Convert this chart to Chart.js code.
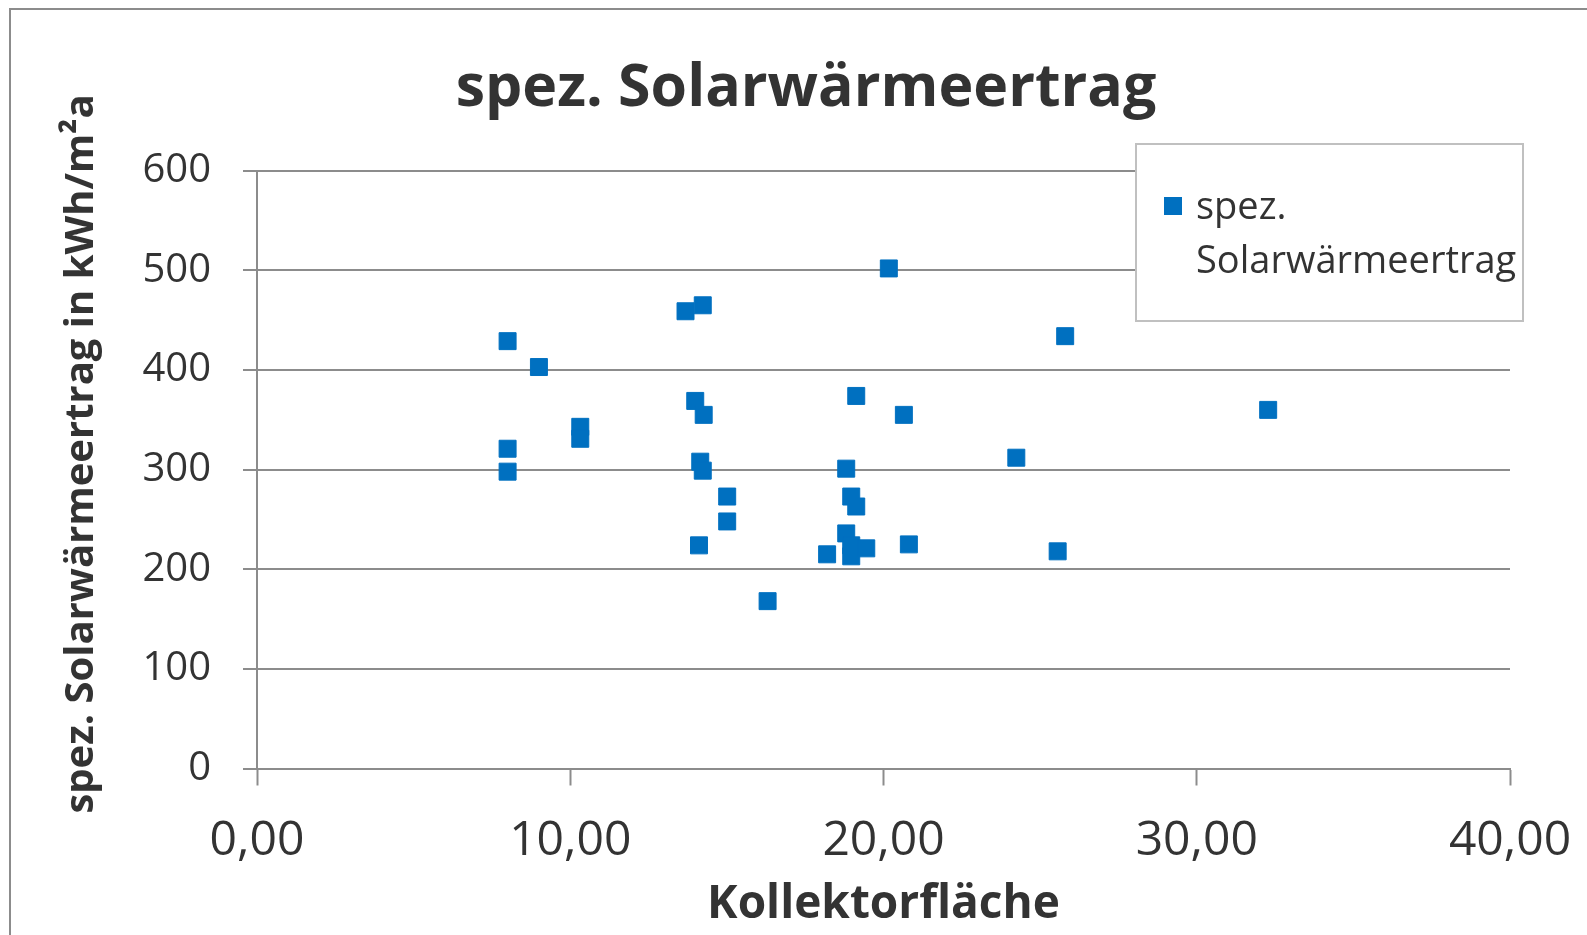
<!DOCTYPE html>
<html>
<head>
<meta charset="utf-8">
<script src="https://cdn.jsdelivr.net/npm/chart.js@4.4.1/dist/chart.umd.min.js"></script>
<style>
    html, body { margin: 0; padding: 0; background: #fff; }
    #wrap { width: 1587px; height: 935px; }
</style>
</head>
<body>
<div id="wrap"><canvas id="solarChart" width="1587" height="935"></canvas></div>
<script>
// Kollektorfläche (m²) and spez. Solarwärmeertrag (kWh/m²a)
let flaeche = [
    8.0, 8.0, 8.0, 9.0, 10.32, 10.32, 13.68, 14.23, 13.99, 14.26, 14.15,
    14.23, 15.01, 15.01, 14.11, 16.3, 18.2, 18.81, 18.81, 18.97, 18.97,
    18.97, 19.13, 19.13, 19.45, 20.17, 20.65, 20.81, 24.24, 25.56, 25.8, 32.28
];
let ertrag = [
    429, 321, 298, 403, 343, 331, 459, 465, 369, 355, 308,
    299, 273, 248, 224, 168, 215, 301, 236, 273, 224,
    213, 374, 263, 221, 502, 355, 225, 312, 218, 434, 360
];
let xTickLabels = ['0,00', '10,00', '20,00', '30,00', '40,00'];
let yTickLabels = ['0', '100', '200', '300', '400', '500', '600'];
let seriesName = 'spez. Solarwärmeertrag';
let xTitle = 'Kollektorfläche';
let yTitle = 'spez. Solarwärmeertrag in kWh/m²a';

const blue = '#0070C0';
const gridGray = '#8c8c8c';
const textColor = '#333333';

// white background + outer frame (only left and top edge visible)
const framePlugin = {
    id: 'frame',
    beforeDraw(chart) {
        const ctx = chart.ctx;
        ctx.save();
        ctx.fillStyle = '#fff';
        ctx.fillRect(0, 0, chart.width, chart.height);
        ctx.strokeStyle = '#8c8c8c';
        ctx.lineWidth = 2;
        ctx.strokeRect(10, 9, chart.width + 50, chart.height + 50);
        ctx.restore();
    }
};

// y axis title, excel puts it a bit above the middle of the plot
const yTitlePlugin = {
    id: 'yTitle',
    afterDraw(chart) {
        const ctx = chart.ctx;
        ctx.save();
        ctx.translate(82, 454);
        ctx.rotate(-Math.PI / 2);
        ctx.fillStyle = textColor;
        ctx.font = 'bold 40px "Open Sans"';
        ctx.textAlign = 'center';
        ctx.textBaseline = 'middle';
        ctx.fillText(yTitle, 0, 0);
        ctx.restore();
    }
};

// legend box like the excel one, with the label wrapped on two lines
const legendBoxPlugin = {
    id: 'legendBox',
    afterDraw(chart) {
        const ctx = chart.ctx;
        const ds = chart.data.datasets[0];
        ctx.save();
        ctx.fillStyle = '#fff';
        ctx.fillRect(1136, 144, 387, 177);
        ctx.strokeStyle = '#c0c0c0';
        ctx.lineWidth = 2;
        ctx.strokeRect(1136, 144, 387, 177);
        ctx.fillStyle = ds.backgroundColor;
        ctx.fillRect(1164, 197, 18, 18);
        ctx.fillStyle = textColor;
        ctx.font = '38px "Open Sans"';
        ctx.textBaseline = 'alphabetic';
        const lines = ds.label.split(' ');
        lines.forEach((line, i) => {
            ctx.fillText(line, 1196, 219 + i * 54);
        });
        ctx.restore();
    }
};

const points = flaeche.map((x, i) => ({ x: x, y: ertrag[i] }));

const ctx = document.getElementById('solarChart').getContext('2d');
const chart = new Chart(ctx, {
    type: 'scatter',
    data: {
        datasets: [{
            label: seriesName,
            data: points,
            pointStyle: 'rect',
            pointRadius: 12,
            borderWidth: 1,
            backgroundColor: blue,
            borderColor: blue
        }]
    },
    options: {
        responsive: false,
        animation: false,
        events: [],
        layout: {
            padding: { left: 102, right: 77, top: 0, bottom: 0 }
        },
        plugins: {
            legend: { display: false },
            tooltip: { enabled: false },
            title: {
                display: true,
                text: seriesName,
                color: textColor,
                font: { family: '"Open Sans"', size: 59, weight: 'bold', lineHeight: 1.2 },
                padding: { top: 54, bottom: 46 }
            }
        },
        scales: {
            x: {
                type: 'linear',
                min: 0,
                max: 40,
                afterFit: s => {
                    s.height = 166.5;
                    s.paddingLeft = 0;
                    s.paddingRight = 0;
                },
                ticks: {
                    stepSize: 10,
                    color: textColor,
                    padding: 27,
                    maxRotation: 0,
                    font: { family: '"Open Sans"', size: 48 },
                    callback: (v, i) => xTickLabels[i]
                },
                grid: {
                    drawOnChartArea: false,
                    drawTicks: true,
                    tickLength: 17,
                    tickColor: gridGray,
                    tickWidth: 2
                },
                border: { color: gridGray, width: 2 },
                title: {
                    display: true,
                    text: xTitle,
                    color: textColor,
                    font: { family: '"Open Sans"', size: 46, weight: 'bold', lineHeight: 1.2 },
                    padding: { top: 0, bottom: 3 }
                }
            },
            y: {
                min: 0,
                max: 600,
                afterFit: s => {
                    s.width = 155;
                    s.paddingTop = 0;
                    s.paddingBottom = 0;
                },
                ticks: {
                    stepSize: 100,
                    color: textColor,
                    padding: 32,
                    font: { family: '"Open Sans"', size: 40 },
                    callback: (v, i) => yTickLabels[i]
                },
                grid: {
                    color: gridGray,
                    lineWidth: 2,
                    drawTicks: true,
                    tickLength: 14,
                    tickColor: gridGray,
                    tickWidth: 2
                },
                border: { color: gridGray, width: 2 }
            }
        }
    },
    plugins: [framePlugin, yTitlePlugin, legendBoxPlugin]
});
</script>
</body>
</html>
